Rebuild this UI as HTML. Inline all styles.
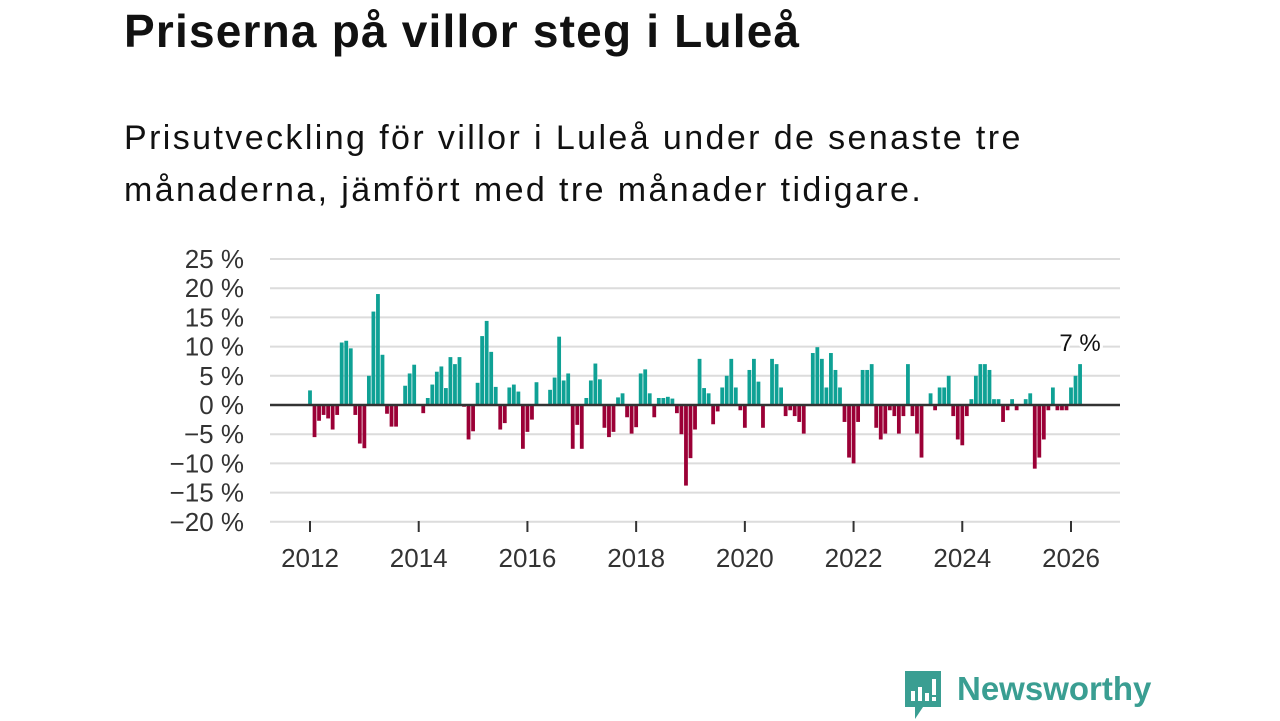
<!DOCTYPE html>
<html><head><meta charset="utf-8">
<style>
body{margin:0;width:1280px;height:720px;background:#fff;overflow:hidden;font-family:"Liberation Sans",sans-serif;position:relative}
h1{position:absolute;left:124px;top:4px;margin:0;font-size:46px;font-weight:bold;color:#111;letter-spacing:1.2px;white-space:nowrap}
p.sub{position:absolute;left:124px;top:112px;margin:0;font-size:34px;line-height:52px;color:#111;width:1100px;letter-spacing:2.4px;white-space:nowrap}
svg{position:absolute;left:0;top:0}
</style></head><body>
<h1>Priserna på villor steg i Luleå</h1>
<p class="sub">Prisutveckling för villor i Luleå under de senaste tre<br>månaderna, jämfört med tre månader tidigare.</p>
<svg id="chart" width="1280" height="720"></svg>
<script>
const values=[2.5,-5.5,-2.7,-1.7,-2.3,-4.2,-1.7,10.7,11,9.7,-1.7,-6.6,-7.4,5,16,19,8.6,-1.5,-3.7,-3.7,0,3.3,5.4,6.9,0,-1.4,1.2,3.5,5.7,6.6,2.9,8.2,7,8.2,-0.3,-5.9,-4.5,3.8,11.8,14.4,9.1,3.1,-4.2,-3.1,3,3.5,2.3,-7.5,-4.6,-2.5,3.9,0,0,2.6,4.7,11.7,4.2,5.4,-7.5,-3.4,-7.5,1.2,4.2,7.1,4.4,-3.9,-5.5,-4.6,1.3,2,-2.1,-4.9,-3.8,5.4,6.1,2,-2.1,1.2,1.2,1.4,1.1,-1.4,-5,-13.8,-9.1,-4.2,7.9,2.9,2,-3.3,-1.1,3,5,7.9,3,-0.9,-3.9,6,7.9,4,-3.9,0,7.9,7,3,-1.9,-0.9,-1.9,-2.9,-4.9,0,8.9,9.9,7.9,3,8.9,6,3,-2.9,-9,-10,-2.9,6,6,7,-3.9,-5.9,-4.9,-0.9,-1.9,-4.9,-1.9,7,-1.9,-4.9,-9,0,2,-0.9,3,3,5,-1.9,-5.9,-6.9,-1.9,1,5,7,7,6,1,1,-2.9,-0.9,1,-0.9,0,1,2,-10.9,-9,-5.9,-0.9,3,-0.9,-0.9,-0.9,3,5,7];
const yTicks=[25,20,15,10,5,0,-5,-10,-15,-20];
const xYears=[2012,2014,2016,2018,2020,2022,2024,2026];
const startYear=2012;
const lastLabel="7 %";
const NS="http://www.w3.org/2000/svg";
const svg=document.getElementById('chart');
const y=v=>405-(v*146/25);
const x=m=>310+m*(761/168);
function mk(t,a){const e=document.createElementNS(NS,t);for(const k in a)e.setAttribute(k,a[k]);svg.appendChild(e);return e;}
yTicks.forEach(t=>{
  const g=mk('line',{x1:270,x2:1120,y1:y(t),y2:y(t),stroke:'#dcdcdc','stroke-width':2});
  
  
  const l=mk('text',{x:244,y:y(t)+9,'text-anchor':'end','font-size':26,fill:'#333','font-family':'Liberation Sans, sans-serif'});
  l.textContent=(t<0?'\u2212'+(-t):t)+' %';
  
  
});
xYears.forEach(yr=>{
  const xx=x((yr-startYear)*12);
  const t=mk('line',{x1:xx,x2:xx,y1:521,y2:532,stroke:'#333','stroke-width':2});
  
  
  const l=mk('text',{x:xx,y:567,'text-anchor':'middle','font-size':26,fill:'#333','font-family':'Liberation Sans, sans-serif'});
  l.textContent=yr;
  
  
});
values.forEach((v,i)=>{
  if(v===0)return;
  const xx=x(i);
  const r=mk('rect',{x:xx-1.9,width:3.8,y:Math.min(y(v),y(0)),height:Math.abs(y(v)-y(0)),fill:v>0?'#0fa195':'#9b0036'});
  
  
});
const z=mk('line',{x1:270,x2:1120,y1:y(0),y2:y(0),stroke:'#333','stroke-width':2.5});


const lb=mk('text',{x:x(values.length-1),y:y(values[values.length-1])-13,'text-anchor':'middle','font-size':24,fill:'#111','font-family':'Liberation Sans, sans-serif',stroke:'#fff','stroke-width':6,'paint-order':'stroke'});
lb.textContent=lastLabel;


</script>
<div style="position:absolute;left:903px;top:671px;display:flex;align-items:center">
<svg width="40" height="50" viewBox="0 0 40 50" style="position:static"><path d="M2 0h36v36h-18l-8 12v-12h-10z" fill="#3a9e92"/><rect x="8" y="20" width="4" height="10" fill="#fff"/><rect x="15" y="16" width="4" height="14" fill="#fff"/><rect x="22" y="22" width="4" height="8" fill="#fff"/><rect x="29" y="8" width="4" height="16" fill="#fff"/><rect x="29" y="26" width="4" height="4" fill="#fff"/></svg>
<span style="font-size:33px;font-weight:bold;color:#3a9e92;margin-left:14px;margin-top:-14px">Newsworthy</span>
</div>
</body></html>
